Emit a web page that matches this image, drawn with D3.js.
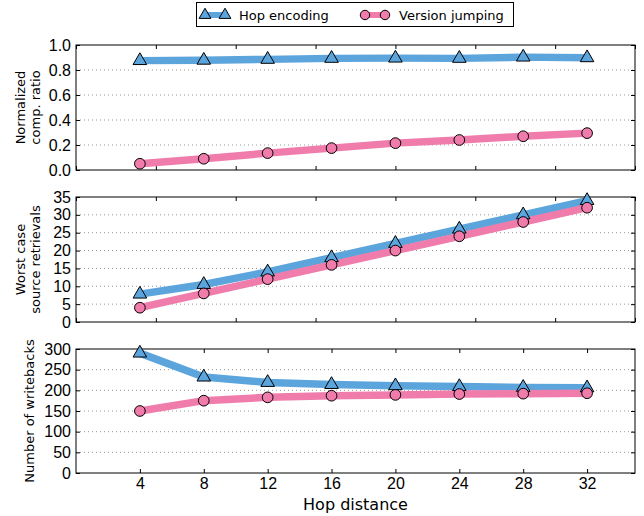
<!DOCTYPE html>
<html>
<head>
<meta charset="utf-8">
<script src="https://cdn.jsdelivr.net/npm/d3@7"></script>
<style>
  body { margin: 0; background: #fff; }
  svg { font-family: "DejaVu Sans", sans-serif; }
</style>
</head>
<body>
<div id="chart"></div>
<script>
// hop distances shared by all three panels
const hops = [4, 8, 12, 16, 20, 24, 28, 32];

// panel 1: normalized compression ratio
const ratioHop = [0.875, 0.878, 0.885, 0.893, 0.895, 0.893, 0.903, 0.898];
const ratioJump = [0.05, 0.09, 0.135, 0.175, 0.215, 0.24, 0.27, 0.295];

// panel 2: worst case source retrievals
const retrHop = [7.8, 10.5, 14, 18, 22, 26, 30, 34];
const retrJump = [4, 8, 12, 16, 20, 24, 28, 32];

// panel 3: number of writebacks
const wbHop = [290, 232, 219, 214, 211, 209, 207, 206];
const wbJump = [150, 175, 183, 187, 189, 191, 192, 193];

const seriesNames = ["Hop encoding", "Version jumping"];

const W = 644, H = 516;
let margin = {left: 76, right: 9};
let colors = ["#5ca4dc", "#f07cac"];

let svg = d3.select("#chart").append("svg")
    .attr("width", W).attr("height", H);

let x = d3.scaleLinear().domain([0, 35]).range([margin.left, W - margin.right]);

let panels = [
  {top: 45, bottom: 170, max: 1.0, ticks: d3.range(0, 1.01, 0.2), fmt: d3.format(".1f"),
   label: ["Normalized", "comp. ratio"], data: [ratioHop, ratioJump]},
  {top: 197, bottom: 322, max: 35, ticks: d3.range(0, 36, 5), fmt: d3.format("d"),
   label: ["Worst case", "source retrievals"], data: [retrHop, retrJump]},
  {top: 349, bottom: 473, max: 300, ticks: d3.range(0, 301, 50), fmt: d3.format("d"),
   label: ["Number of writebacks"], data: [wbHop, wbJump]}
];

function marker(s, size) {
  return d3.symbol().type(s === 0 ? d3.symbolTriangle : d3.symbolCircle).size(size);
}

panels.forEach(function(p, i) {
  let y = d3.scaleLinear().domain([0, p.max]).range([p.bottom, p.top]);
  let g = svg.append("g");
  let last = i === panels.length - 1;

  // dotted grid
  g.selectAll(".grid").data(p.ticks.slice(1, -1)).enter().append("line")
    .attr("x1", x(0)).attr("x2", x(35))
    .attr("y1", d => y(d)).attr("y2", d => y(d))
    .attr("stroke", "#999").attr("stroke-width", 1)
    .attr("stroke-dasharray", "1,3");

  // y axes, inward ticks on both sides
  g.append("g").attr("transform", "translate(" + x(0) + ",0)")
    .call(d3.axisLeft(y).tickValues(p.ticks).tickFormat(p.fmt).tickSizeInner(-4).tickSizeOuter(0).tickPadding(5))
    .call(a => a.select(".domain").remove())
    .selectAll("text").attr("font-size", 16).attr("fill", "#000");
  g.append("g").attr("transform", "translate(" + x(35) + ",0)")
    .call(d3.axisRight(y).tickValues(p.ticks).tickFormat("").tickSizeInner(-4).tickSizeOuter(0))
    .call(a => a.select(".domain").remove());

  // x axes
  let xt = last ? hops : d3.range(0, 36, 5);
  g.append("g").attr("transform", "translate(0," + p.bottom + ")")
    .call(d3.axisBottom(x).tickValues(xt).tickFormat(last ? d3.format("d") : "").tickSizeInner(-4).tickSizeOuter(0).tickPadding(5))
    .call(a => a.select(".domain").remove())
    .selectAll("text").attr("font-size", 16).attr("fill", "#000");
  g.append("g").attr("transform", "translate(0," + p.top + ")")
    .call(d3.axisTop(x).tickValues(xt).tickFormat("").tickSizeInner(-4).tickSizeOuter(0))
    .call(a => a.select(".domain").remove());

  // frame
  g.append("rect").attr("x", x(0)).attr("y", p.top)
    .attr("width", x(35) - x(0)).attr("height", p.bottom - p.top)
    .attr("fill", "none").attr("stroke", "#000").attr("stroke-width", 1);

  // y label
  let lab = g.append("text")
    .attr("transform", "translate(" + (p.label.length > 1 ? 25 : 34) + "," + ((p.top + p.bottom) / 2) + ") rotate(-90)")
    .attr("text-anchor", "middle").attr("font-size", 13);
  p.label.forEach(function(t, k) {
    lab.append("tspan").attr("x", 0).attr("dy", k === 0 ? 0 : 15).text(t);
  });

  // lines
  let line = d3.line().x((d, j) => x(hops[j])).y(d => y(d));
  p.data.forEach(function(vals, s) {
    g.append("path").datum(vals).attr("d", line)
      .attr("fill", "none").attr("stroke", colors[s]).attr("stroke-width", 7.5)
      .attr("stroke-linejoin", "round");
  });
  // markers
  p.data.forEach(function(vals, s) {
    g.selectAll(".m" + s).data(vals).enter().append("path")
      .attr("d", marker(s, s === 0 ? 80 : 90))
      .attr("transform", (d, j) => "translate(" + x(hops[j]) + "," + y(d) + ")")
      .attr("fill", colors[s]).attr("stroke", "#000").attr("stroke-width", 1);
  });
});

svg.selectAll(".tick line").attr("stroke", "#000");

// x label
svg.append("text").attr("x", (x(0) + x(35)) / 2).attr("y", 510)
  .attr("text-anchor", "middle").attr("font-size", 16).text("Hop distance");

// legend
let leg = svg.append("g");
leg.append("rect").attr("x", 196.5).attr("y", 2.5).attr("width", 317).attr("height", 24)
  .attr("fill", "#fff").attr("stroke", "#000").attr("stroke-width", 1);
let legX = [205, 365];
seriesNames.forEach(function(name, s) {
  let lx = legX[s];
  leg.append("line").attr("x1", lx).attr("x2", lx + 20).attr("y1", 15).attr("y2", 15)
    .attr("stroke", colors[s]).attr("stroke-width", 6);
  [lx, lx + 20].forEach(function(mx) {
    leg.append("path").attr("d", marker(s, s === 0 ? 60 : 70)).attr("transform", "translate(" + mx + ",15)")
      .attr("fill", colors[s]).attr("stroke", "#000").attr("stroke-width", 1);
  });
  leg.append("text").attr("x", lx + 34).attr("y", 20).attr("font-size", 13).text(name);
});
</script>
</body>
</html>
